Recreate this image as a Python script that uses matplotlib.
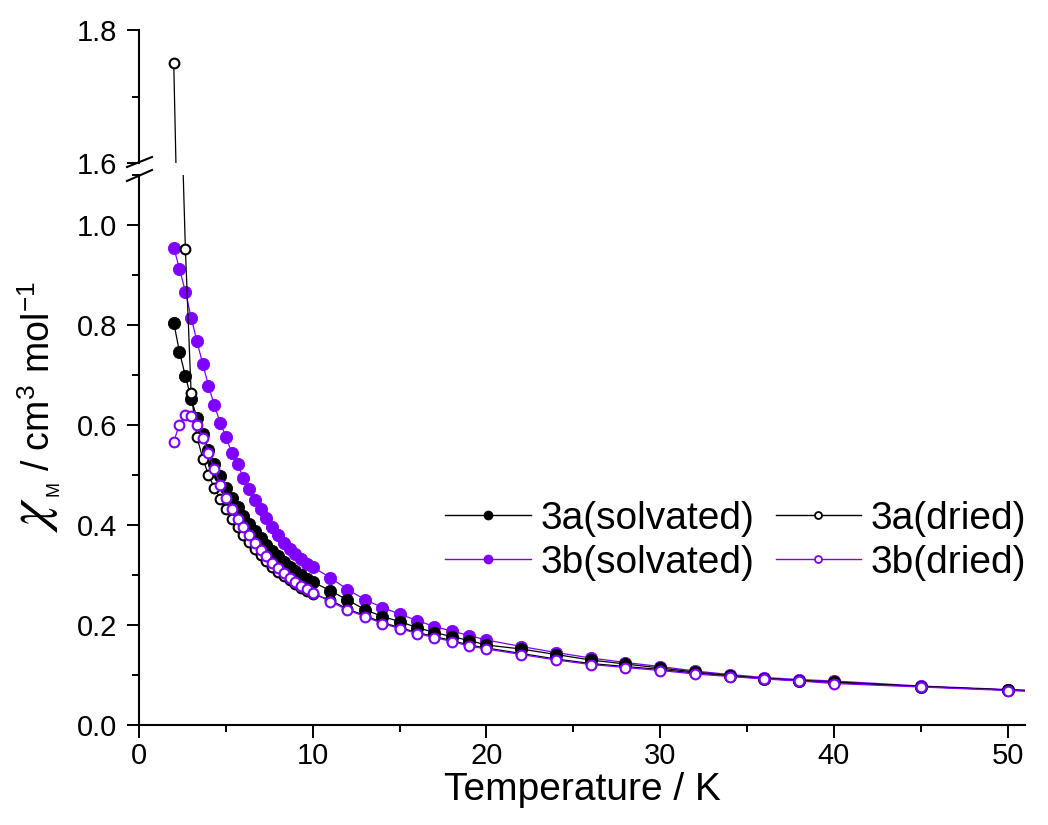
import matplotlib
matplotlib.use("Agg")
import matplotlib.pyplot as plt
from matplotlib.lines import Line2D
from matplotlib.ticker import MultipleLocator, FormatStrFormatter

plt.rcParams["font.family"] = ["Liberation Sans", "DejaVu Sans"]
plt.rcParams["mathtext.fontset"] = "stix"

PURPLE = "#8000ff"

# temperatures (K)
T_DENSE = [2.0, 2.33, 2.67, 3.0, 3.33, 3.67, 4.0, 4.33, 4.67, 5.0, 5.33, 5.67, 6.0,
           6.33, 6.67, 7.0, 7.33, 7.67, 8.0, 8.33, 8.67, 9.0, 9.33, 9.67, 10.0]
T_SPARSE = [11, 12, 13, 14, 15, 16, 17, 18, 19, 20,
            22, 24, 26, 28, 30, 32, 34, 36, 38, 40, 45, 50, 55]
T_ALL = T_DENSE + T_SPARSE
# 3a(dried) has no reading at 2.33 K
T_3A_DRIED = [2.0] + T_DENSE[2:] + T_SPARSE

# chi_M values (cm3 mol-1)
CHI_3A_SOLV = [0.805, 0.746, 0.698, 0.653, 0.615, 0.583, 0.551, 0.523, 0.498, 0.475,
               0.455, 0.436, 0.418, 0.402, 0.388, 0.374, 0.361, 0.349, 0.338, 0.327,
               0.317, 0.308, 0.300, 0.293, 0.286,
               0.269, 0.250, 0.231, 0.217, 0.207, 0.195, 0.185, 0.177, 0.169, 0.160,
               0.152, 0.141, 0.130, 0.122, 0.114, 0.106, 0.099, 0.093, 0.089, 0.086,
               0.077, 0.070, 0.064]
CHI_3A_DRIED = [1.750, 0.952, 0.664, 0.577, 0.533, 0.500, 0.475, 0.453, 0.433,
                0.413, 0.397, 0.381, 0.366, 0.352, 0.340, 0.328, 0.317, 0.307, 0.298,
                0.290, 0.282, 0.275, 0.268, 0.262,
                0.250, 0.232, 0.219, 0.205, 0.195, 0.185, 0.177, 0.169, 0.160, 0.154,
                0.143, 0.132, 0.123, 0.117, 0.111, 0.104, 0.098, 0.093, 0.089, 0.085,
                0.077, 0.070, 0.064]
CHI_3B_SOLV = [0.955, 0.912, 0.867, 0.815, 0.768, 0.722, 0.679, 0.640, 0.605, 0.577,
               0.545, 0.522, 0.495, 0.473, 0.451, 0.433, 0.415, 0.397, 0.380, 0.365,
               0.352, 0.342, 0.332, 0.323, 0.316,
               0.295, 0.271, 0.251, 0.235, 0.222, 0.209, 0.197, 0.188, 0.179, 0.170,
               0.157, 0.145, 0.134, 0.125, 0.117, 0.108, 0.101, 0.095, 0.091, 0.088,
               0.078, 0.071, 0.065]
CHI_3B_DRIED = [0.567, 0.601, 0.621, 0.619, 0.600, 0.575, 0.544, 0.512, 0.480, 0.455,
                0.432, 0.413, 0.397, 0.380, 0.365, 0.350, 0.339, 0.325, 0.315, 0.305,
                0.295, 0.287, 0.279, 0.272, 0.265,
                0.247, 0.230, 0.217, 0.203, 0.193, 0.183, 0.175, 0.167, 0.158, 0.152,
                0.141, 0.130, 0.121, 0.115, 0.109, 0.102, 0.097, 0.092, 0.088, 0.083,
                0.076, 0.069, 0.063]

W, H = 1048, 825
fig = plt.figure(figsize=(W / 100, H / 100), dpi=100)


def fx(px):
    return px / W


def fy(py):
    return 1 - py / H


ax = fig.add_axes([fx(139), fy(725), fx(1025) - fx(139), fy(175) - fy(725)])
ax_top = fig.add_axes([fx(139), fy(163), fx(1025) - fx(139), fy(30) - fy(163)])

series = [
    (T_ALL, CHI_3B_SOLV, PURPLE, True),
    (T_ALL, CHI_3A_SOLV, "black", True),
    (T_3A_DRIED, CHI_3A_DRIED, "black", False),
    (T_ALL, CHI_3B_DRIED, PURPLE, False),
]

for a in (ax, ax_top):
    for t, chi, col, filled in series:
        if filled:
            a.plot(t, chi, color=col, lw=0.9, marker="o", ms=8.8, mfc=col, mec=col, mew=0.6)
        else:
            a.plot(t, chi, color=col, lw=0.9, marker="o", ms=7.0, mfc="white", mec=col, mew=1.5)
    a.set_xlim(0, 51)
    a.spines["top"].set_visible(False)
    a.spines["right"].set_visible(False)
    a.spines["left"].set_linewidth(1.5)
    a.spines["bottom"].set_linewidth(1.5)
    a.tick_params(which="major", direction="out", length=9, width=1.4, labelsize=21, pad=6.5)
    a.tick_params(which="minor", direction="out", length=5, width=1.4)

ax.set_ylim(0, 1.1)
ax.yaxis.set_major_locator(MultipleLocator(0.2))
ax.yaxis.set_minor_locator(MultipleLocator(0.1))
ax.yaxis.set_major_formatter(FormatStrFormatter("%.1f"))
ax.xaxis.set_major_locator(MultipleLocator(10))
ax.xaxis.set_minor_locator(MultipleLocator(5))
ax.tick_params(axis="x", which="major", pad=3.5)

ax_top.set_ylim(1.6, 1.8)
ax_top.yaxis.set_major_locator(MultipleLocator(0.2))
ax_top.yaxis.set_minor_locator(MultipleLocator(0.1))
ax_top.yaxis.set_major_formatter(FormatStrFormatter("%.1f"))
ax_top.spines["bottom"].set_visible(False)
ax_top.tick_params(axis="x", which="both", bottom=False, labelbottom=False)

# axis break marks
for y0, y1 in [(167, 157), (181, 170)]:
    fig.add_artist(Line2D([fx(127), fx(152)], [fy(y0), fy(y1)], color="black", lw=1.5,
                          transform=fig.transFigure))

ax.set_xlabel("Temperature / K", fontsize=28, labelpad=1)

# y label: large chi, small M subscript, then units
fig.text(fx(46), fy(497), r"$\chi$", fontsize=40, rotation=90,
         rotation_mode="anchor", ha="right", va="baseline")
fig.text(fx(58), fy(496), "M", fontsize=13, rotation=90,
         rotation_mode="anchor", ha="left", va="baseline")
fig.text(fx(50), fy(471), r"/ cm$^\mathregular{3}$ mol$^\mathregular{-1}$", fontsize=27,
         rotation=90, rotation_mode="anchor", ha="left", va="baseline")

handles = [
    Line2D([], [], color="black", lw=1, marker="o", ms=6, mfc="black", mec="black"),
    Line2D([], [], color=PURPLE, lw=1, marker="o", ms=6, mfc=PURPLE, mec=PURPLE),
    Line2D([], [], color="black", lw=1, marker="o", ms=5, mfc="white", mec="black", mew=1.3),
    Line2D([], [], color=PURPLE, lw=1, marker="o", ms=5, mfc="white", mec=PURPLE, mew=1.3),
]
labels = ["3a(solvated)", "3b(solvated)", "3a(dried)", "3b(dried)"]
fig.legend(handles, labels, ncol=2, loc="upper left", bbox_to_anchor=(fx(445), fy(501)),
           frameon=False, fontsize=28, handlelength=2.2, handletextpad=0.25,
           columnspacing=0.55, labelspacing=0.2, borderpad=0, borderaxespad=0)

fig.savefig("out.png", dpi=100)
